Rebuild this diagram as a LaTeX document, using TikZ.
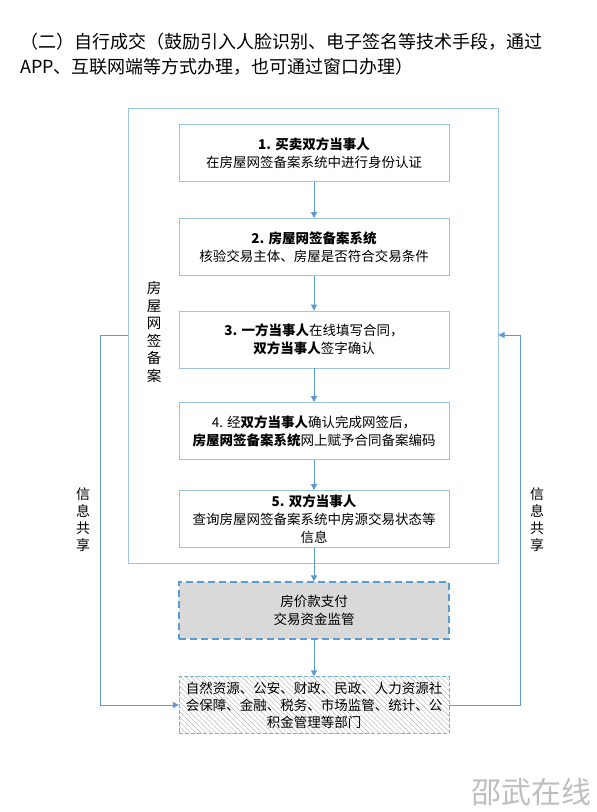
\documentclass[tikz,border=0pt]{standalone}
\usepackage{fontspec}
\setmainfont{Noto Sans CJK SC}
\usetikzlibrary{arrows.meta,patterns.meta}
\definecolor{lineblue}{RGB}{91,155,213}
\definecolor{boxblue}{RGB}{157,195,230}
\definecolor{grayfill}{RGB}{217,217,217}
\definecolor{wmgray}{RGB}{190,190,190}
\begin{document}
\begin{tikzpicture}[x=1pt,y=-1pt,
  stepbox/.style={draw=boxblue,line width=0.9pt,minimum width=270pt,minimum height=57pt,inner sep=0pt,align=center,font=\fontsize{13.5}{18}\selectfont},
  paybox/.style={stepbox,draw=lineblue,fill=grayfill,dash pattern=on 7pt off 4pt,line width=1.2pt},
  deptbox/.style={stepbox,draw=lineblue!80,dash pattern=on 4pt off 2pt,line width=0.8pt,pattern={Lines[angle=-45,distance=3.6pt,line width=0.4pt]},pattern color=black!30,font=\fontsize{13.5}{17}\selectfont},
  outerbox/.style={draw=boxblue,line width=1pt,minimum width=370pt,minimum height=455pt,inner sep=0pt},
  arr/.style={draw=lineblue,line width=1pt,-{Triangle[width=6pt,length=6pt]}},
  vlabel/.style={align=center,inner sep=0pt,font=\fontsize{14}{17}\selectfont},
  titletext/.style={anchor=west,inner sep=0pt,font=\fontsize{18}{22}\selectfont}]
\useasboundingbox (0,0) rectangle (597,812);
\node[titletext] (t1) at (20,42) {（二）自行成交（鼓励引入人脸识别、电子签名等技术手段，通过};
\node[titletext] (t2) at (20,67) {APP、互联网端等方式办理，也可通过窗口办理）};
\node[outerbox] (outer) at (313,335.5) {};
\node[stepbox] (b1) at (314,153) {{\bfseries 1. 买卖双方当事人}\\在房屋网签备案系统中进行身份认证};
\node[stepbox] (b2) at (314,247) {{\bfseries 2. 房屋网签备案系统}\\核验交易主体、房屋是否符合交易条件};
\node[stepbox] (b3) at (314,339.5) {{\bfseries 3. 一方当事人}在线填写合同，\\{\bfseries 双方当事人}签字确认};
\node[stepbox] (b4) at (314,431) {4. 经{\bfseries 双方当事人}确认完成网签后，\\{\bfseries 房屋网签备案系统}网上赋予合同备案编码};
\node[stepbox] (b5) at (314,519) {{\bfseries 5. 双方当事人}\\查询房屋网签备案系统中房源交易状态等\\信息};
\node[paybox] (b6) at (314,610.5) {房价款支付\\交易资金监管};
\node[deptbox] (b7) at (314,705) {自然资源、公安、财政、民政、人力资源社\\会保障、金融、税务、市场监管、统计、公\\积金管理等部门};
\node[vlabel,font=\fontsize{14.5}{17.6}\selectfont] (lab0) at (154,332) {房\\屋\\网\\签\\备\\案};
\node[vlabel] (labL) at (83,520) {信\\息\\共\\享};
\node[vlabel] (labR) at (537,520) {信\\息\\共\\享};
\node[anchor=east,inner sep=0pt,text=wmgray,font=\fontsize{30}{34}\selectfont] (wm) at (592,792) {邵武在线};
\coordinate (lt) at (100,335);
\coordinate (rt) at (520,335);
\draw[arr] (b1) -- (b2);
\draw[arr] (b2) -- (b3);
\draw[arr] (b3) -- (b4);
\draw[arr] (b4) -- (b5);
\draw[arr] (b5) -- (b6);
\draw[arr] (b6) -- (b7);
\draw[arr] (outer.west |- lt) -- (lt) |- (b7.west);
\draw[arr] (b7.east) -| (rt) -- (outer.east |- rt);
\end{tikzpicture}
\end{document}
